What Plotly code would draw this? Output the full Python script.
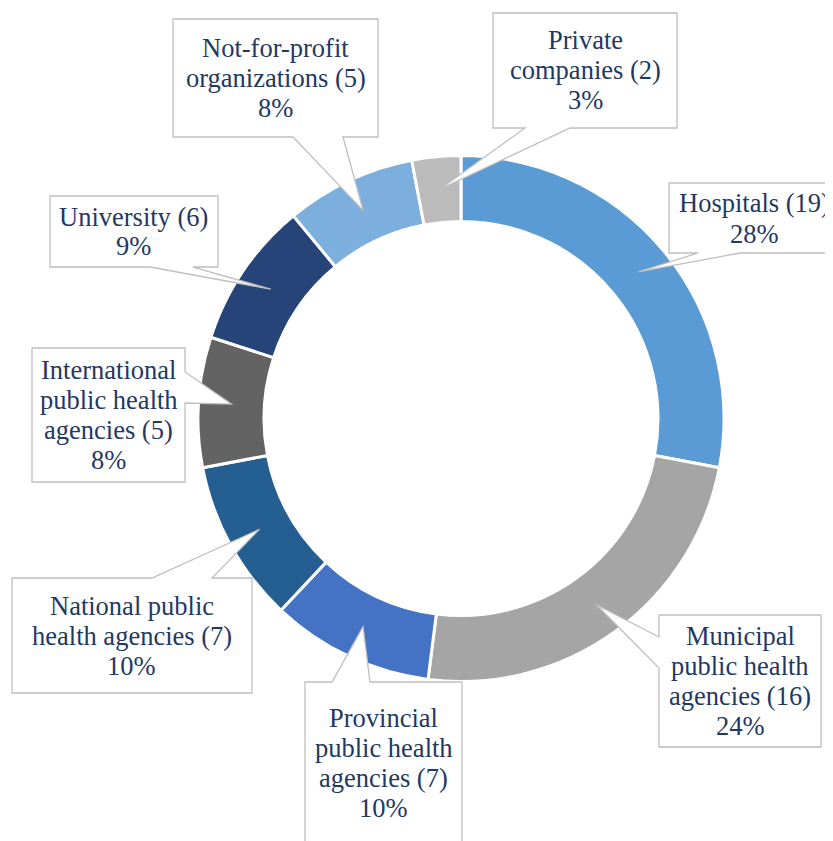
import math
import plotly.graph_objects as go

# ---- data ----
categories = [
    "Hospitals",
    "Municipal\npublic health\nagencies",
    "Provincial\npublic health\nagencies",
    "National public\nhealth agencies",
    "International\npublic health\nagencies",
    "University",
    "Not-for-profit\norganizations",
    "Private\ncompanies",
]
counts = [19, 16, 7, 7, 5, 6, 5, 2]
percents = [28, 24, 10, 10, 8, 9, 8, 3]
colors = ["#5B9BD5", "#A5A5A5", "#4472C4", "#255E91",
          "#636363", "#264478", "#7CAFDD", "#BBBBBB"]

# ---- layout constants (pixels in the page) ----
W, H = 833, 841
OFF = 8  # default page body margin
CX, CY = 461.0, 418.5
R_OUT, R_IN = 261.5, 198.5
LW = 3
R_PLOT = R_OUT + LW / 2
HOLE = (R_IN - LW / 2) / R_PLOT
TIP_R = 230.0
LINE_H = 30.0
FONT = "Liberation Serif, Times New Roman, serif"
TXT_COLOR = "#1F3864"
BOX_LINE = "#BFBFBF"

# callout boxes: (x0, y0, x1, y1, pointer side, base a, base b)
boxes = [
    (669, 183, 839, 253, "bottom", 698, 740),
    (659, 615, 821, 747, "left", 637, 668),
    (305, 682, 462, 845, "top", 332, 370),
    (12, 578, 252, 693, "top", 152, 212),
    (32, 348, 185, 482, "right", 372, 403),
    (50, 196, 218, 267, "bottom", 150, 193),
    (173, 19, 378, 137, "bottom", 293, 343),
    (493, 13, 677, 128, "bottom", 525, 570),
]
text_centers = [(754, 218.5), None, (383.5, 763), None, None, None, None, None]


def px(x):
    return (x - OFF) / W


def py(y):
    return 1 - (y - OFF) / H


fig = go.Figure()
fig.add_trace(go.Pie(
    labels=[c.replace("\n", " ") for c in categories],
    values=percents,
    sort=False,
    direction="clockwise",
    rotation=0,
    hole=HOLE,
    textinfo="none",
    hoverinfo="label+value",
    marker=dict(colors=colors, line=dict(color="white", width=LW)),
    domain=dict(x=[px(CX - R_PLOT), px(CX + R_PLOT)],
                y=[py(CY + R_PLOT), py(CY - R_PLOT)]),
    showlegend=False,
))

total = sum(percents)
cum = 0
shapes = []
annotations = []
for i, name in enumerate(categories):
    mid = (cum + percents[i] / 2) / total * 2 * math.pi
    cum += percents[i]
    tx = CX + TIP_R * math.sin(mid)
    ty = CY - TIP_R * math.cos(mid)
    x0, y0, x1, y1, side, a, b = boxes[i]
    pts = [(x0, y0)]
    if side == "top":
        pts += [(a, y0), (tx, ty), (b, y0)]
    pts.append((x1, y0))
    if side == "right":
        pts += [(x1, a), (tx, ty), (x1, b)]
    pts.append((x1, y1))
    if side == "bottom":
        pts += [(b, y1), (tx, ty), (a, y1)]
    pts.append((x0, y1))
    if side == "left":
        pts += [(x0, b), (tx, ty), (x0, a)]
    path = "M " + " L ".join(f"{px(x):.5f},{py(y):.5f}" for x, y in pts) + " Z"
    shapes.append(dict(type="path", path=path, xref="paper", yref="paper",
                       fillcolor="white", line=dict(color=BOX_LINE, width=1.3),
                       layer="above"))
    lines = name.split("\n")
    lines[-1] = f"{lines[-1]} ({counts[i]})"
    lines.append(f"{percents[i]}%")
    if text_centers[i] is not None:
        tcx, tcy = text_centers[i]
    else:
        tcx, tcy = (x0 + x1) / 2, (y0 + y1) / 2
    n = len(lines)
    for j, ln in enumerate(lines):
        yy = tcy + (j - (n - 1) / 2) * LINE_H
        annotations.append(dict(
            x=px(tcx), y=py(yy), xref="paper", yref="paper",
            text=ln, showarrow=False, xanchor="center", yanchor="middle",
            font=dict(family=FONT, size=26.5, color=TXT_COLOR)))

fig.update_layout(
    width=W, height=H,
    margin=dict(l=0, r=0, t=0, b=0),
    paper_bgcolor="white", plot_bgcolor="white",
    font=dict(family=FONT),
    shapes=shapes, annotations=annotations,
    showlegend=False,
)
fig.write_html("out.html")
